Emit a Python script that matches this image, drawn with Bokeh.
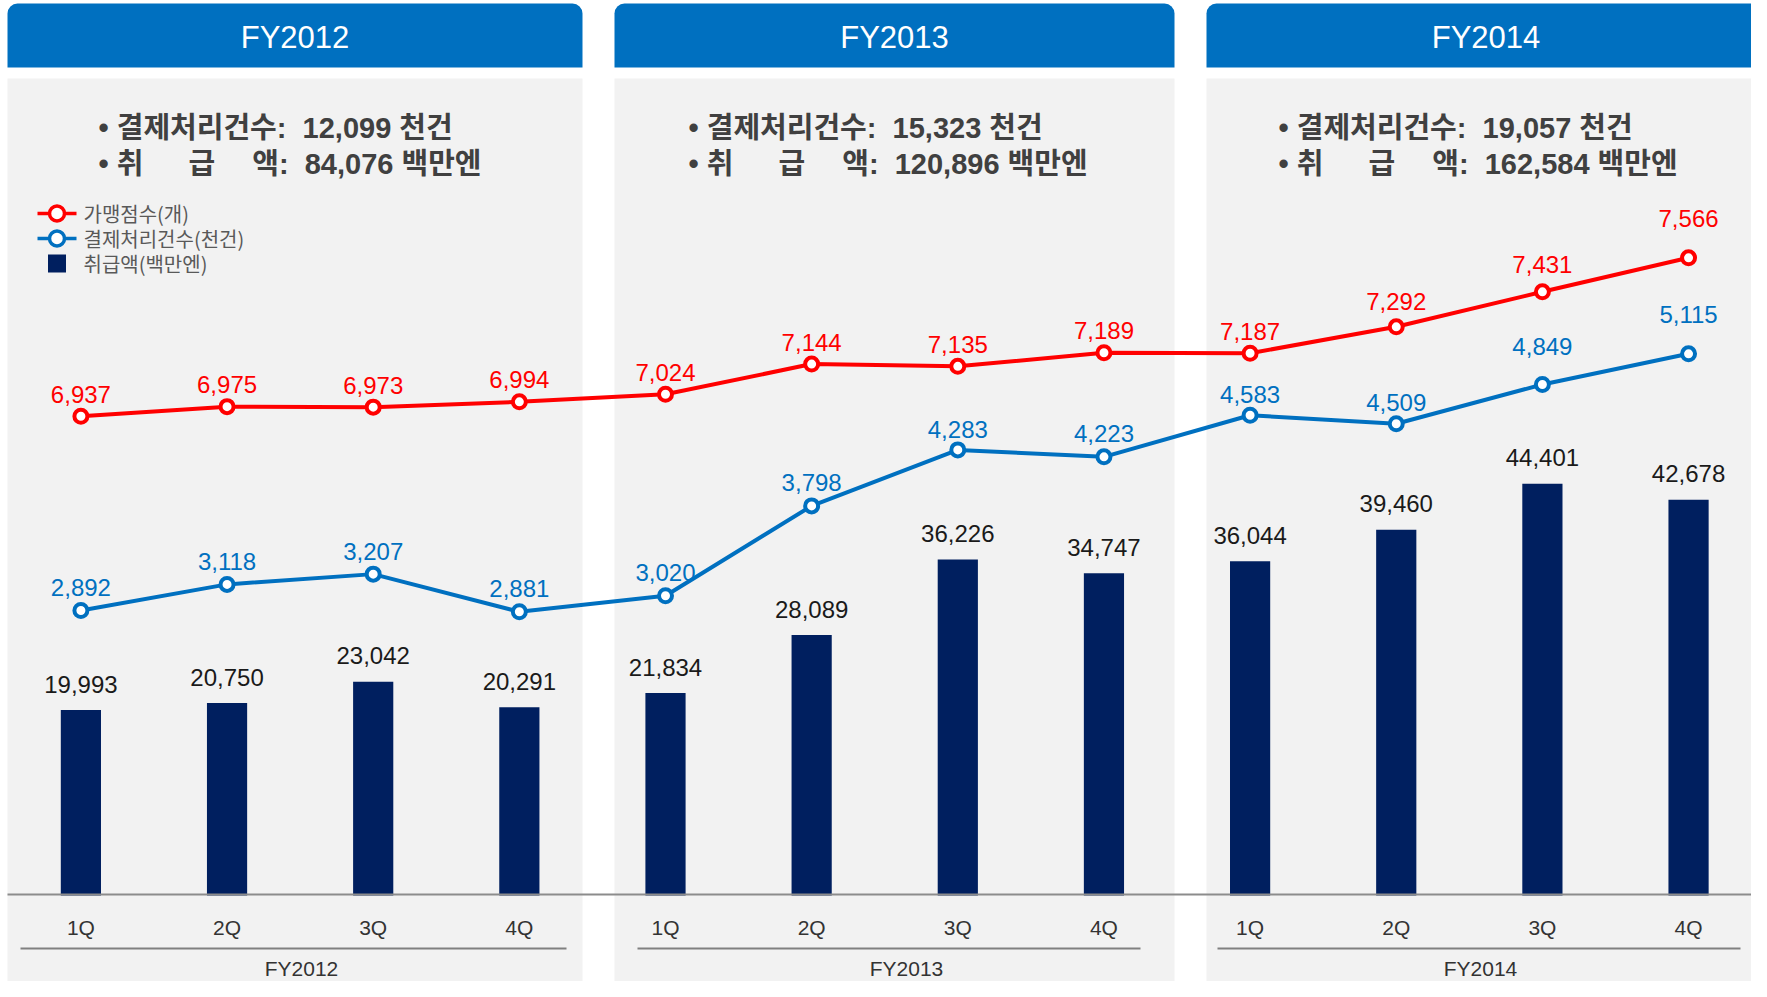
from bokeh.plotting import figure
from bokeh.models import Range1d
from bokeh.core.properties import value
from bokeh.embed import file_html
from bokeh.resources import INLINE

# ---------------- data ----------------
years = ["FY2012", "FY2013", "FY2014"]
quarters = ["1Q", "2Q", "3Q", "4Q"]
amount = [19993, 20750, 23042, 20291, 21834, 28089, 36226, 34747, 36044, 39460, 44401, 42678]   # 취급액(백만엔)
stores = [6937, 6975, 6973, 6994, 7024, 7144, 7135, 7189, 7187, 7292, 7431, 7566]              # 가맹점수(개)
txn = [2892, 3118, 3207, 2881, 3020, 3798, 4283, 4223, 4583, 4509, 4849, 5115]                  # 결제처리건수(천건)
annual_txn = [12099, 15323, 19057]      # 천건
annual_amt = [84076, 120896, 162584]    # 백만엔
legend_labels = ["가맹점수(개)", "결제처리건수(천건)", "취급액(백만엔)"]

# ---------------- style / layout ----------------
RED = "#ff0000"
BLUE = "#0070c0"
NAVY = "#001f5f"
HEAD = "#0070c0"
PANEL = "#f2f2f2"
LATIN = "'Liberation Sans', 'Noto Sans CJK KR'"
KR = "'Noto Sans CJK KR'"

W, H = 1751, 981
FIRST_PX, STEP_PX = 80.4, 146.15          # canvas position of category 0 and category pitch


def px(v):
    """convert a canvas-pixel x position into category-index units"""
    return (v - FIRST_PX) / STEP_PX


def axis_range(anchor_value, anchor_px, px_per_unit):
    """value range so that anchor_value sits at canvas row anchor_px"""
    top = anchor_value + anchor_px / px_per_unit
    bottom = anchor_value - (H - anchor_px) / px_per_unit
    return Range1d(bottom, top)


panel_x = [(7, 582), (614, 1174), (1206, 1765)]
panel_shift = [0, 590, 1180]
sep_x = [(20, 566), (637, 1140), (1217, 1740)]
group_label_x = [301, 906, 1480]
red_lift = [0, 0, 0, 0, 0, 0, 0, 0, 0, 3, 5, 17]
blue_lift = [0, 0, 0, 0, 0, 0, -3, 0, -2, -2, 15, 16]
legend_rows = [213, 238, 263]

xi = list(range(len(years) * len(quarters)))

p = figure(width=W, height=H,
           x_range=Range1d(px(0), px(W)),
           y_range=Range1d(H, 0),
           x_axis_location=None, y_axis_location=None,
           output_backend="svg", toolbar_location=None, min_border=0)
p.extra_y_ranges = {
    "amt": axis_range(0, 895, 0.009272),
    "stores": axis_range(6937, 415.7, 0.2518),
    "txn": axis_range(2892, 610, 0.11547),
}
p.grid.visible = False
p.outline_line_color = None
p.background_fill_color = "white"
p.border_fill_color = "white"

# panels
for (x0, x1) in panel_x:
    p.quad(left=px(x0), right=px(x1), top=3, bottom=67,
           fill_color=HEAD, line_color=None, border_radius=(10, 10, 0, 0))
    p.quad(left=px(x0), right=px(x1), top=78, bottom=996,
           fill_color=PANEL, line_color=None, border_radius=(0, 0, 8, 8))

# header titles
p.text(x=[px((a + b) / 2) for a, b in panel_x], y=[37] * 3, text=years,
       text_font=value(LATIN), text_font_size="31px", text_color="white",
       text_align="center", text_baseline="middle")

# yearly summary
line1 = [f"• 결제처리건수:\u00a0 {v:,} 천건" for v in annual_txn]
line2 = [f"• 취\u3000\u00a0\u00a0급\u3000\u00a0액:\u00a0 {v:,} 백만엔" for v in annual_amt]
p.text(x=[px(98 + s) for s in panel_shift] * 2, y=[127] * 3 + [163] * 3, text=line1 + line2,
       text_font=value(LATIN), text_font_size="29px",
       text_font_style="bold", text_color="#404040",
       text_align="left", text_baseline="middle")

# bars
bars = p.vbar(x=xi, top=amount, bottom=0, width=0.275, y_range_name="amt",
              fill_color=NAVY, line_color=None)
p.text(x=xi, y=amount, text=[f"{v:,}" for v in amount], y_range_name="amt",
       y_offset=-26, text_font=value(LATIN), text_font_size="24px", text_color="#1a1a1a",
       text_align="center", text_baseline="middle")

# axis line & separators
p.segment(x0=[px(7)], x1=[px(1761)], y0=[894], y1=[894],
          line_color="#8c8c8c", line_width=2)
p.segment(x0=[px(a) for a, b in sep_x], x1=[px(b) for a, b in sep_x], y0=[948] * 3, y1=[948] * 3,
          line_color="#808080", line_width=2)

# category labels
p.text(x=xi, y=[927] * len(xi), text=[q for y in years for q in quarters],
       text_font=value(LATIN), text_font_size="21px", text_color="#333333",
       text_align="center", text_baseline="middle")
p.text(x=[px(v) for v in group_label_x], y=[968] * 3, text=years,
       text_font=value(LATIN), text_font_size="21px", text_color="#333333",
       text_align="center", text_baseline="middle")

# lines
rl = p.line(x=xi, y=stores, y_range_name="stores", line_color=RED, line_width=4)
rp = p.scatter(x=xi, y=stores, y_range_name="stores", size=13, line_width=4,
               line_color=RED, fill_color="white")
bl = p.line(x=xi, y=txn, y_range_name="txn", line_color=BLUE, line_width=4)
bp = p.scatter(x=xi, y=txn, y_range_name="txn", size=13, line_width=4,
               line_color=BLUE, fill_color="white")

p.text(x=xi, y=stores, text=[f"{v:,}" for v in stores], y_range_name="stores",
       y_offset=[-22 - d for d in red_lift], text_font=value(LATIN), text_font_size="24px",
       text_color=RED, text_align="center", text_baseline="middle")
p.text(x=xi, y=txn, text=[f"{v:,}" for v in txn], y_range_name="txn",
       y_offset=[-23 - d for d in blue_lift], text_font=value(LATIN), text_font_size="24px",
       text_color=BLUE, text_align="center", text_baseline="middle")

# legend (drawn as key glyphs + labels)
p.segment(x0=[px(37)] * 2, x1=[px(76)] * 2, y0=legend_rows[:2], y1=legend_rows[:2],
          line_color=[RED, BLUE], line_width=3.5)
p.scatter(x=[px(56.5)] * 2, y=legend_rows[:2], size=15, line_width=3.5,
          line_color=[RED, BLUE], fill_color="white")
p.scatter(x=[px(56.5)], y=[legend_rows[2]], marker="square", size=18,
          fill_color=NAVY, line_color=None)
p.text(x=[px(83)] * 3, y=legend_rows, text=legend_labels,
       text_font=value(KR), text_font_size="20px", text_color="#595959",
       text_align="left", text_baseline="middle")

open("out.html", "w").write(file_html(p, INLINE))
